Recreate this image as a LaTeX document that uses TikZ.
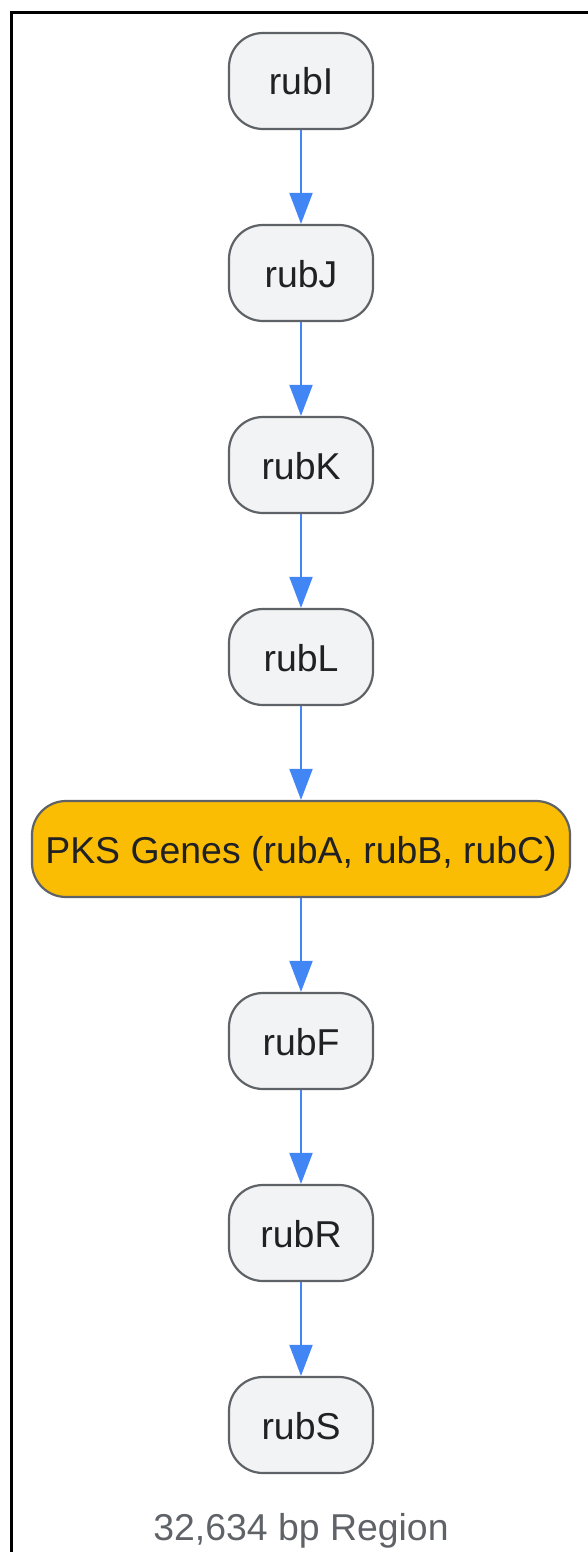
\documentclass[tikz,border=0pt]{standalone}
\usepackage{fontspec}
\setmainfont{Liberation Sans}
\usetikzlibrary{arrows.meta}
\definecolor{nodefill}{HTML}{F1F3F4}
\definecolor{nodestroke}{HTML}{5F6368}
\definecolor{txt}{HTML}{202124}
\definecolor{pks}{HTML}{FBBC04}
\definecolor{arrowc}{HTML}{4285F4}
\definecolor{captc}{HTML}{5F6368}
\tikzset{
  gene/.style={draw=nodestroke, line width=1.1pt, fill=nodefill, rounded corners=17pt,
    minimum width=72pt, minimum height=48pt, inner sep=0pt, text=txt,
    text depth=0pt, text height=14pt,
    font=\fontsize{18.7pt}{22pt}\selectfont},
  pksbox/.style={gene, fill=pks, minimum width=269pt},
  flow/.style={draw=arrowc, line width=1pt, -{Triangle[length=15.5pt,width=11.5pt]}},
  caption/.style={text=captc, font=\fontsize{18.7pt}{22pt}\selectfont, inner sep=0pt}
}
\begin{document}
\begin{tikzpicture}[x=0.5pt,y=-0.5pt]
\useasboundingbox (0,0) rectangle (588,1552);
\begin{scope}
\clip (0,0) rectangle (588,1552);
\draw[line width=1.5pt, black] (11,12.5) rectangle (700,1700);
\end{scope}
\node[gene] (i) at (301,81) {rubI};
\node[gene] (j) at (301,273) {rubJ};
\node[gene] (k) at (301,465) {rubK};
\node[gene] (l) at (301,657) {rubL};
\node[pksbox] (p) at (301,849) {PKS Genes (rubA, rubB, rubC)};
\node[gene] (f) at (301,1041) {rubF};
\node[gene] (r) at (301,1233) {rubR};
\node[gene] (s) at (301,1425) {rubS};
\node[caption] (cap) at (301,1531) {32,634 bp Region};
\draw[flow] (i) -- (j);
\draw[flow] (j) -- (k);
\draw[flow] (k) -- (l);
\draw[flow] (l) -- (p);
\draw[flow] (p) -- (f);
\draw[flow] (f) -- (r);
\draw[flow] (r) -- (s);
\end{tikzpicture}
\end{document}
